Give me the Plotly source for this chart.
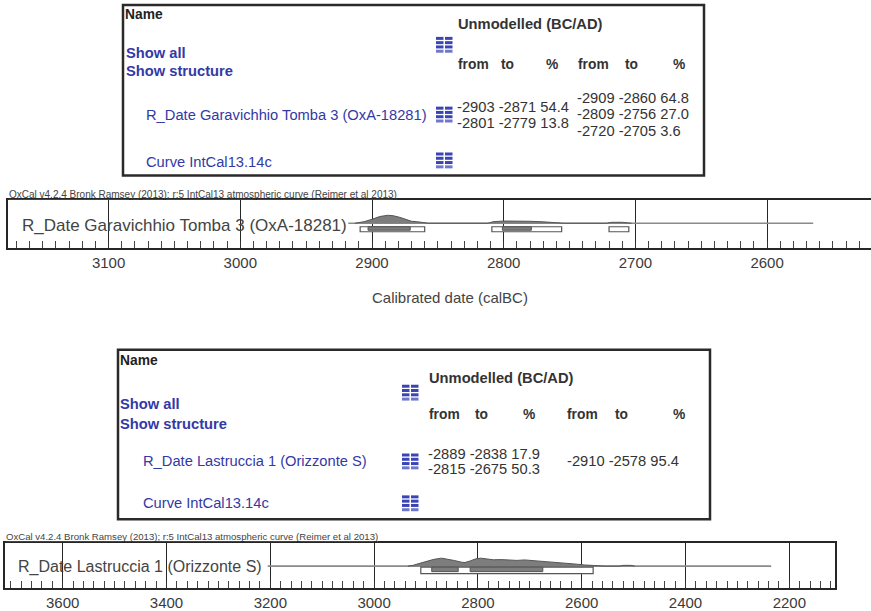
import plotly.graph_objects as go

# ---------------- data ----------------
# Top panel: R_Date Garavichhio Tomba 3 (OxA-18281)
top_name = "R_Date Garavichhio Tomba 3 (OxA-18281)"
top_years = [2913, 2906, 2900, 2894, 2888, 2884, 2879, 2874, 2870, 2866, 2861, 2857,
             2812, 2808, 2800, 2790, 2780, 2770, 2760, 2754,
             2722, 2718, 2710, 2703]
top_prob = [0, 0.2, 0.5, 0.85, 1.0, 0.95, 0.75, 0.45, 0.25, 0.2, 0.12, 0,
            0, 0.2, 0.28, 0.3, 0.25, 0.18, 0.1, 0,
            0, 0.12, 0.12, 0]
top_r68_from = [-2903, -2801]
top_r68_to = [-2871, -2779]
top_r68_pct = [54.4, 13.8]
top_r95_from = [-2909, -2809, -2720]
top_r95_to = [-2860, -2756, -2705]
top_r95_pct = [64.8, 27.0, 3.6]
top_line_span = [2918, 2565]

# Bottom panel: R_Date Lastruccia 1 (Orizzonte S)
bot_name = "R_Date Lastruccia 1 (Orizzonte S)"
bot_years = [2935, 2925, 2915, 2900, 2885, 2870, 2858, 2845, 2832, 2825, 2815, 2805,
             2795, 2785, 2770, 2755, 2740, 2725, 2710, 2695, 2680, 2665, 2650, 2640,
             2625, 2610, 2595, 2580, 2565, 2555,
             2527, 2520, 2505, 2498]
bot_prob = [0, 0.1, 0.3, 0.6, 0.85, 1.0, 0.9, 0.7, 0.5, 0.45, 0.65, 0.9,
            1.0, 0.95, 0.8, 0.82, 0.75, 0.72, 0.78, 0.7, 0.65, 0.6, 0.55, 0.5,
            0.35, 0.25, 0.15, 0.08, 0.02, 0,
            0, 0.1, 0.1, 0]
bot_r68_from = [-2889, -2815]
bot_r68_to = [-2838, -2675]
bot_r68_pct = [17.9, 50.3]
bot_r95_from = [-2910]
bot_r95_to = [-2578]
bot_r95_pct = [95.4]
bot_line_span = [3205, 2235]

top_major_dtick = 100
top_minor_dtick = 10
bot_major_dtick = 200
bot_minor_dtick = 20

caption = "OxCal v4.2.4 Bronk Ramsey (2013); r:5 IntCal13 atmospheric curve (Reimer et al 2013)"
axis_title = "Calibrated date (calBC)"
curve_name = "Curve IntCal13.14c"

# ---------------- layout helpers ----------------
W, H = 871, 611
FONT = "Liberation Sans, Arial, sans-serif"
BLUE = "#3339a6"
DARK = "#333333"
TS = 14.7   # table font size
HS = 13.8   # header font size


def px(x):
    return x / W


def py(y):
    return 1 - y / H


annotations = []
shapes = []


def ann(x, y, text, size=14, color=DARK, bold=False, xanchor="left"):
    if bold:
        text = "<b>" + text + "</b>"
    annotations.append(dict(x=px(x), y=py(y), xref="paper", yref="paper", text=text,
                            showarrow=False, xanchor=xanchor, yanchor="middle",
                            font=dict(family=FONT, size=size, color=color), borderpad=0))


def icon(x0, yc):
    top = yc - 8
    for r in range(4):
        for c in range(2):
            xa = x0 + c * 9
            ya = top + r * 4.3
            shapes.append(dict(type="rect", xref="paper", yref="paper",
                               x0=px(xa), x1=px(xa + 7.5), y0=py(ya), y1=py(ya + 3),
                               line=dict(width=0), fillcolor="#3a44b4" if r < 3 else "#6f78c8"))


def box(x0, y0, x1, y1):
    shapes.append(dict(type="rect", xref="paper", yref="paper", x0=px(x0), x1=px(x1),
                       y0=py(y1), y1=py(y0), line=dict(color="#2a2a2a", width=2.5),
                       fillcolor="rgba(0,0,0,0)"))


def fmt(v):
    return ("%.1f" % v)


def table(b, icons, rows):
    box(*b)
    for (x, y, t, s, col, bold) in rows:
        ann(x, y, t, size=s, color=col, bold=bold)
    for (x, y) in icons:
        icon(x, y)


# ---------------- table 1 ----------------
t1 = [
    (124, 15, "Name", HS, "#222222", True),
    (125, 53, "Show all", TS, BLUE, True),
    (125, 71, "Show structure", TS, BLUE, True),
    (145, 115, top_name, TS, BLUE, False),
    (145, 163, curve_name, TS, BLUE, False),
    (457, 24, "Unmodelled (BC/AD)", TS, DARK, True),
    (457, 65, "from", HS, DARK, True),
    (500, 65, "to", HS, DARK, True),
    (545, 65, "%", HS, DARK, True),
    (577, 65, "from", HS, DARK, True),
    (624, 65, "to", HS, DARK, True),
    (672, 65, "%", HS, DARK, True),
]
for i in range(len(top_r68_from)):
    t1.append((456, 107 + 16 * i, "%d %d %s" % (top_r68_from[i], top_r68_to[i], fmt(top_r68_pct[i])),
               TS, DARK, False))
for i in range(len(top_r95_from)):
    t1.append((576, 98 + 16.5 * i, "%d %d %s" % (top_r95_from[i], top_r95_to[i], fmt(top_r95_pct[i])),
               TS, DARK, False))
table((123, 5, 704, 176), [(436, 45), (436, 115), (436, 161)], t1)

# ---------------- table 2 ----------------
t2 = [
    (119, 362, "Name", HS, "#222222", True),
    (119, 405, "Show all", TS, BLUE, True),
    (119, 425, "Show structure", TS, BLUE, True),
    (142, 463, bot_name, TS, BLUE, False),
    (142, 505, curve_name, TS, BLUE, False),
    (428, 379, "Unmodelled (BC/AD)", TS, DARK, True),
    (428, 416, "from", HS, DARK, True),
    (474, 416, "to", HS, DARK, True),
    (522, 416, "%", HS, DARK, True),
    (566, 416, "from", HS, DARK, True),
    (614, 416, "to", HS, DARK, True),
    (672, 416, "%", HS, DARK, True),
]
for i in range(len(bot_r68_from)):
    t2.append((427, 455 + 16 * i, "%d %d %s" % (bot_r68_from[i], bot_r68_to[i], fmt(bot_r68_pct[i])),
               TS, DARK, False))
for i in range(len(bot_r95_from)):
    t2.append((566, 463, "%d %d %s" % (bot_r95_from[i], bot_r95_to[i], fmt(bot_r95_pct[i])),
               TS, DARK, False))
table((118, 351, 710, 521), [(402, 394), (402, 463), (402, 505)], t2)

# ---------------- plots ----------------
fig = go.Figure()

# panel geometry (px)
P1 = dict(left=8, right=871, top=201, bottom=249, base=224, unit=8)
P2 = dict(left=5, right=835, top=545, bottom=590, base=568, unit=8)
P1_x_range = [3176.4, 2521.1]
P2_x_range = [3711.2, 2112.0]


def yconv(P, ypx):
    return (P["base"] - ypx) / P["unit"]


# grey horizontal lines
fig.add_trace(go.Scatter(x=top_line_span, y=[0, 0], mode="lines", xaxis="x", yaxis="y",
                         line=dict(color="#8a8a8a", width=1.6), hoverinfo="skip"))
fig.add_trace(go.Scatter(x=bot_line_span, y=[0, 0], mode="lines", xaxis="x2", yaxis="y2",
                         line=dict(color="#8a8a8a", width=1.6), hoverinfo="skip"))

# distributions
fig.add_trace(go.Scatter(x=top_years, y=top_prob, mode="lines", fill="tozeroy", xaxis="x", yaxis="y",
                         fillcolor="#7d7d7d", line=dict(color="#555555", width=1), hoverinfo="skip"))
fig.add_trace(go.Scatter(x=bot_years, y=bot_prob, mode="lines", fill="tozeroy", xaxis="x2", yaxis="y2",
                         fillcolor="#7d7d7d", line=dict(color="#555555", width=1), hoverinfo="skip"))


def range_rects(P, xref, yref, r95f, r95t, r68f, r68t, y95, y68):
    for a, b in zip(r95f, r95t):
        shapes.append(dict(type="rect", xref=xref, yref=yref, x0=-a, x1=-b,
                           y0=yconv(P, y95[0]), y1=yconv(P, y95[1]),
                           line=dict(color="#555555", width=1.2), fillcolor="white", layer="above"))
    for a, b in zip(r68f, r68t):
        shapes.append(dict(type="rect", xref=xref, yref=yref, x0=-a, x1=-b,
                           y0=yconv(P, y68[0]), y1=yconv(P, y68[1]),
                           line=dict(color="#555555", width=1), fillcolor="#7d7d7d", layer="above"))


range_rects(P1, "x", "y", top_r95_from, top_r95_to, top_r68_from, top_r68_to, (227.5, 232.5), (227.5, 231))
range_rects(P2, "x2", "y2", bot_r95_from, bot_r95_to, bot_r68_from, bot_r68_to, (569, 575.5), (569, 573.5))


def xaxis_cfg(P, rng, dtick, mdtick, mirror):
    return dict(domain=[px(P["left"]), px(P["right"])], range=rng, anchor="y" if P is P1 else "y2",
                dtick=dtick, tick0=0, tickformat="d", showgrid=True, gridcolor="#262626", gridwidth=1.4,
                zeroline=False, showline=True, linecolor="#262626", linewidth=1.6, mirror=mirror,
                ticks="inside", ticklen=7, tickwidth=1.2, tickcolor="#333333",
                tickfont=dict(family=FONT, size=15, color="#3a3a3a"),
                minor=dict(dtick=mdtick, tick0=0, ticks="inside", ticklen=7, tickwidth=1.2,
                           tickcolor="#444444", showgrid=False),
                fixedrange=True)


def yaxis_cfg(P, xanchor, mirror):
    lo = yconv(P, P["bottom"])
    hi = yconv(P, P["top"])
    return dict(domain=[py(P["bottom"]), py(P["top"])], range=[lo, hi], anchor=xanchor,
                showgrid=False, zeroline=False, showticklabels=False, ticks="",
                showline=True, linecolor="#262626", linewidth=1.6, mirror=mirror, fixedrange=True)


fig.update_layout(
    xaxis=xaxis_cfg(P1, P1_x_range, top_major_dtick, top_minor_dtick, True),
    yaxis=yaxis_cfg(P1, "x", False),
    xaxis2=xaxis_cfg(P2, P2_x_range, bot_major_dtick, bot_minor_dtick, True),
    yaxis2=yaxis_cfg(P2, "x2", True),
)

# in-plot labels and captions
ann(21, 226, top_name, size=17, color="#444444")
ann(17, 569, bot_name, size=16, color="#444444")
ann(8, 195, "<u>" + caption + "</u>", size=10, color="#444444")
ann(5, 538, "<u>" + caption + "</u>", size=9.6, color="#444444")
ann(450, 298, axis_title, size=15, color="#444444", xanchor="center")

fig.update_layout(
    width=W, height=H, margin=dict(l=0, r=0, t=0, b=0),
    paper_bgcolor="white", plot_bgcolor="white", showlegend=False,
    annotations=annotations, shapes=shapes,
)

fig.write_html("out.html", config={"displayModeBar": False},
               post_script="document.body.style.margin='0px';document.body.style.overflow='hidden';")
